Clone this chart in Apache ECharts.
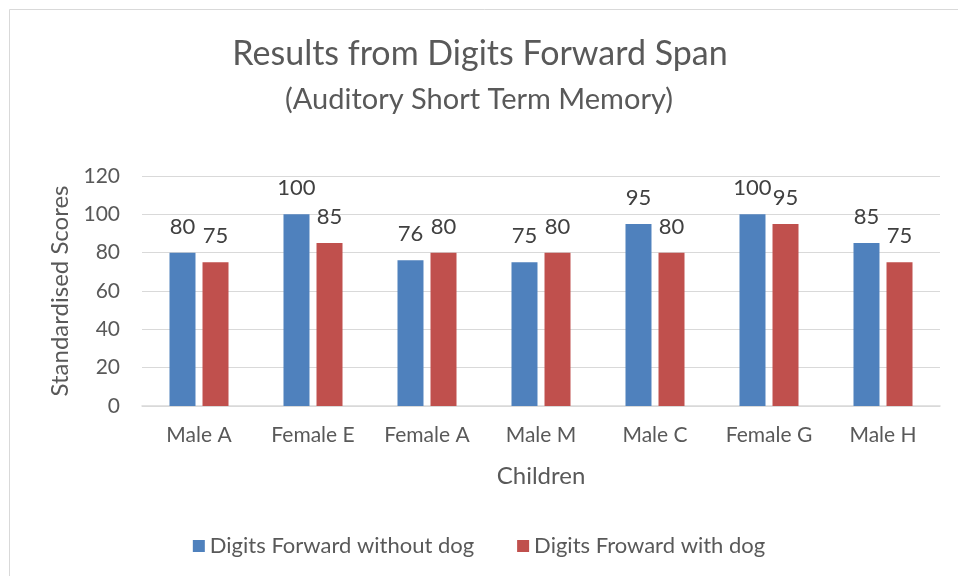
<!DOCTYPE html>
<html>
<head>
<meta charset="utf-8">
<script src="https://cdn.jsdelivr.net/npm/echarts@6/dist/echarts.min.js"></script>
<style>html,body{margin:0;padding:0;background:#fff;}#c{width:958px;height:576px;}</style>
</head>
<body>
<div id="c"></div>
<script>
var categories = ["Male A", "Female E", "Female A", "Male M", "Male C", "Female G", "Male H"];
var withoutDog = [80, 100, 76, 75, 95, 100, 85];
var withDog = [75, 85, 80, 80, 80, 95, 75];
var seriesNames = ["Digits Forward without dog", "Digits Froward with dog"];
var FONT = "Lato, 'Open Sans', sans-serif";

var chart = echarts.init(document.getElementById('c'));
chart.setOption({
  backgroundColor: '#fff',
  animation: false,
  graphic: [{
    type: 'rect', shape: {x: 9.5, y: 9.5, width: 1000, height: 1000},
    style: {fill: 'none', stroke: '#d9d9d9', lineWidth: 1}
  }],
  title: [{
    text: 'Results from Digits Forward Span',
    left: 475, top: 32, textAlign: 'center',
    textStyle: {fontFamily: FONT, fontSize: 34, fontWeight: 'normal', color: '#595959'}
  }, {
    text: '(Auditory Short Term Memory)',
    left: 474, top: 80, textAlign: 'center',
    textStyle: {fontFamily: FONT, fontSize: 29, fontWeight: 'normal', color: '#595959'}
  }],
  legend: {
    bottom: 14, left: 'center', itemWidth: 12, itemHeight: 12, itemGap: 43,
    icon: 'rect',
    textStyle: {fontFamily: FONT, fontSize: 22, color: '#595959'},
    data: seriesNames
  },
  grid: {left: 142, right: 18, top: 176, bottom: 170},
  xAxis: {
    type: 'category', data: categories,
    name: 'Children', nameLocation: 'middle', nameGap: 58,
    nameTextStyle: {fontFamily: FONT, fontSize: 24, color: '#595959'},
    axisLine: {lineStyle: {color: '#d9d9d9', width: 1.5}},
    axisTick: {show: false},
    axisLabel: {fontFamily: FONT, fontSize: 21, color: '#595959', margin: 19}
  },
  yAxis: {
    type: 'value', min: 0, max: 120, interval: 20,
    name: 'Standardised Scores', nameLocation: 'middle', nameGap: 68, nameRotate: 90,
    nameTextStyle: {fontFamily: FONT, fontSize: 24, color: '#595959'},
    axisLine: {show: false}, axisTick: {show: false},
    axisLabel: {fontFamily: FONT, fontSize: 21, color: '#595959', margin: 22},
    splitLine: {lineStyle: {color: '#d9d9d9', width: 1}}
  },
  series: [{
    name: seriesNames[0], type: 'bar', data: withoutDog,
    barWidth: 26, barGap: '27%',
    itemStyle: {color: '#4f81bd'},
    label: {show: true, position: 'top', distance: 15, fontFamily: FONT, fontSize: 22, color: '#404040'}
  }, {
    name: seriesNames[1], type: 'bar', data: withDog,
    barWidth: 26,
    itemStyle: {color: '#c0504d'},
    label: {show: true, position: 'top', distance: 15, fontFamily: FONT, fontSize: 22, color: '#404040'}
  }]
});
</script>
</body>
</html>
